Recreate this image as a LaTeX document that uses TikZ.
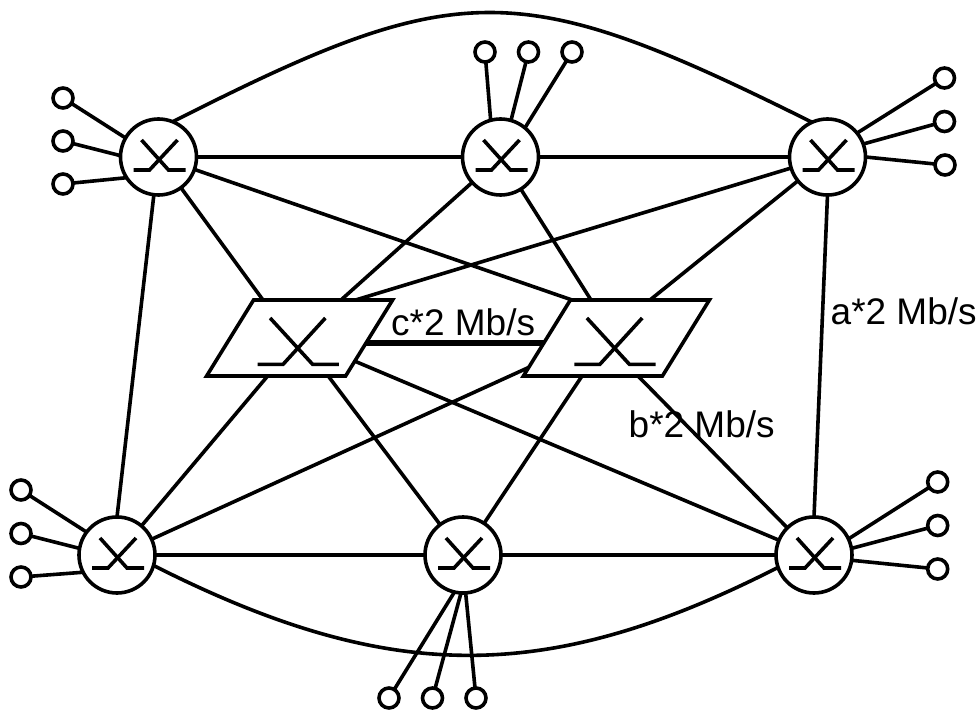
\documentclass[tikz,border=0pt]{standalone}
\usepackage{fontspec}
\setmainfont{Liberation Sans}
\usetikzlibrary{calc,backgrounds}
\tikzset{
  x=1pt,y=-1pt,
  router/.style={circle,draw,line width=3.6pt,fill=white,minimum size=76pt,inner sep=0pt,outer sep=0pt},
  leaf/.style={circle,draw,line width=3.6pt,fill=white,minimum size=20pt,inner sep=0pt,outer sep=0pt},
  para/.style={rectangle,draw,line width=3.6pt,fill=white,minimum width=139pt,minimum height=76pt,inner sep=0pt,outer sep=0pt,xslant=0.618},
  rate/.style={inner sep=0pt,anchor=base west,font=\fontsize{37}{42}\selectfont},
  link/.style={line width=3.6pt},
  trunk/.style={line width=6pt},
}
\begin{document}
\begin{tikzpicture}
\useasboundingbox (0,0) rectangle (980,711);
% routers
\node[router] (TL) at (158.5,157) {};
\node[router] (TM) at (500.5,157) {};
\node[router] (TR) at (827.5,157) {};
\node[router] (BL) at (117,555) {};
\node[router] (BM) at (463,555) {};
\node[router] (BR) at (814,555) {};
% central switches
\node[para] (L) at (299.6,338) {};
\node[para] (R) at (616.4,338) {};
% hosts
\foreach \n/\x/\y in {a1/63/98,a2/63/141,a3/63/184,
  b1/485/52,b2/528.5/52,b3/572/52,
  c1/944.5/78,c2/944.5/121.5,c3/945/165,
  d1/21/490,d2/21/533.5,d3/21/577,
  e1/389/698,e2/432.5/698,e3/476/698,
  f1/937.7/482,f2/937.7/525.5,f3/937.7/569}
  \node[leaf] (\n) at (\x,\y) {};
% switching glyphs
\foreach \n in {TL,TM,TR,BL,BM,BR}{
  \draw[link] ($(\n)+(-25,13)$) -- ($(\n)+(-9,13)$) -- ($(\n)+(19,-17)$);
  \draw[link] ($(\n)+(-17,-17)$) -- ($(\n)+(10,13)$) -- ($(\n)+(27,13)$);
}
\foreach \n in {L,R}{
  \draw[link] ($(\n)+(-42,26.3)$) -- ($(\n)+(-16.5,26.3)$) -- ($(\n)+(25.8,-20)$);
  \draw[link] ($(\n)+(-29.5,-20)$) -- ($(\n)+(13,26.3)$) -- ($(\n)+(39.3,26.3)$);
}
% ports on the switches
\coordinate (LtTL) at ($(L)+(-36.6,-38)$);
\coordinate (LtTR) at ($(L)+(56,-38)$);
\coordinate (LtTM) at ($(L)+(41.4,-38)$);
\coordinate (RtTL) at ($(R)+(-44.4,-38)$);
\coordinate (RtTM) at ($(R)+(-25.4,-38)$);
\coordinate (RtTR) at ($(R)+(33.6,-38)$);
\coordinate (RbBL) at ($(R)+(-56,15)$);
\coordinate (RbBM) at ($(R)+(-34.4,38)$);
\coordinate (RbBR) at ($(R)+(21.6,38)$);
\begin{scope}[on background layer]
  \foreach \a/\b in {TL/TM,TM/TR,BL/BM,BM/BR,
    TL.263/BL.north,TR.south/BR.north,
    L/BL,L/BM,L/BR,
    TL/LtTL,TM/LtTM,TR/LtTR,TL/RtTL,TM/RtTM,TR/RtTR,
    BL/RbBL,BM/RbBM,BR/RbBR,
    a1/TL.150,a2/TL.178,a3/TL.213,
    b1/TM.105,b2/TM.74,b3/TM.50,
    c1/TR.39,c2/TR.20,c3/TR.0,
    d1/BL.143,d2/BL.170,d3/BL.207,
    e1/BM.257,e2/BM.267,e3/BM.274,
    f1/BR.25,f2/BR.10,f3/BR.-8}
    \draw[link] (\a) -- (\b);
  \draw[link] (TL.68) .. controls (460,-24) and (518,-24) .. (TR.114);
  \draw[link] (BL.-16) .. controls (390,685) and (547,685) .. (BR.199);
  \draw[trunk] ($(L)+(0,4.7)$) -- ($(R)+(0,4.7)$);
\end{scope}
% labels
\node[rate] (ra) at (830.5,324) {a*2 Mb/s};
\node[rate] (rb) at (628.5,437.5) {b*2 Mb/s};
\node[rate] (rc) at (391,335) {c*2 Mb/s};
\end{tikzpicture}
\end{document}
